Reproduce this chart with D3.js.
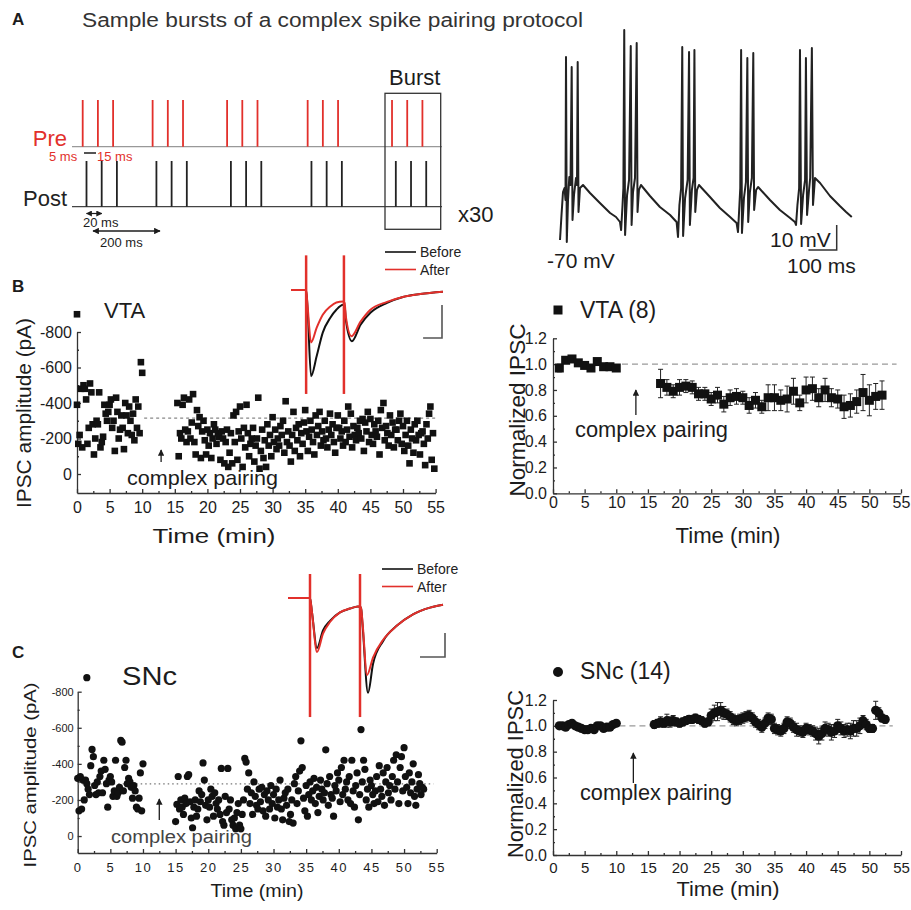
<!DOCTYPE html>
<html>
<head>
<meta charset="utf-8">
<script src="https://cdn.jsdelivr.net/npm/d3@7"></script>
<style>
  body { margin: 0; background: #fff; }
  svg { display: block; font-family: "Liberation Sans", Arial, sans-serif; }
</style>
</head>
<body>
<script>
// ---- data ----

// A: pairing schematic, times in ms
var burstStarts = [0, 92, 190, 296, 407];
var spikeOffsets = [0, 20, 40];
var postDelay = 5;

// A: membrane potential during pairing, [ms, mV]
var vmTrace = [
  [0,-70],[5.3,-60],[10.6,-50.8],[15.9,-49.2],[19.4,-54],[21.2,3.2],[24,-70.8],[28.3,-54],[32.9,-44.8],[37.1,-48],
  [41.3,-0.8],[44.2,-62],[49.5,-52],[56.5,-45.2],[60.1,-48],[62.5,1.2],[65.4,-58.8],[70.7,-49.2],[81.3,-48],[106,-51.2],
  [141,-55.2],[177,-59.2],[198,-60.8],[212,-62.8],
  [216,-66],[221,-56],[224,-49.2],[227,14],[230,-68],[237,-52],[244,-46],[250,7.6],[253,-64],[258,-50.8],[265,-45.2],
  [271,8.8],[274,-58.8],[279,-50],[286,-48],[318,-52.4],[353,-56.8],[389,-60],[412,-62.8],
  [417,-68.8],[422,-56],[428,-49.2],[432,7.2],[435,-68.4],[442,-53.2],[451,-46],[456,5.2],[459,-64],[466,-50],[472,-45.2],
  [475,6],[478,-58.8],[484,-50],[491,-48],[530,-52.8],[565,-57.2],[601,-60.8],[624,-63.2],
  [629,-66.8],[634,-56],[637,-49.2],[640,6],[643,-67.2],[650,-53.2],[657,-46.8],[662,2.8],[665,-62.8],[671,-50.8],[678,-45.2],
  [683,4.8],[686,-58],[693,-50],[700,-48.8],[742,-54],[777,-58],[813,-61.2],[830,-62.8],
  [834,-64],[839,-56],[845,-49.2],[848,6],[852,-63.6],[859,-52],[866,-46],[869,2.8],[873,-60],[880,-50],[884,-45.2],
  [890,6.8],[894,-56],[901,-45.2],[919,-47.2],[954,-52.4],[989,-56.4],[1011,-58.8],[1031,-60.8]
];

// insets: paired IPSCs, [ms, pA]
var stimTimes = [0, 50];
var vtaBefore = [[-20,0],[0,0],[2,-60],[6.5,-261],[14,-200],[22,-129],[32,-84],[40,-60],[49,-45],[51,-50],[52.5,-90],
  [60.5,-155],[72,-105],[85,-69],[107,-39],[128,-21],[151,-12],[181,-5]];
var vtaAfter = [[-20,0],[0,0],[2,-50],[6.5,-159],[14,-114],[22,-75],[32,-50],[40,-38],[49,-35],[51,-40],[52.5,-80],
  [60,-140],[72,-96],[85,-60],[107,-36],[128,-21],[151,-12],[181,-5]];
var sncBefore = [[-22,0],[0,0],[2,-60],[7,-208],[13,-135],[20,-95],[30,-60],[40,-44],[48,-35],[51,-40],[52.5,-110],
  [58,-395],[63,-275],[73,-180],[87,-115],[103,-68],[120,-40],[133,-28]];
var sncAfter = [[-22,0],[0,0],[2,-60],[7,-225],[13,-148],[20,-100],[30,-60],[40,-44],[48,-35],[51,-40],[52.5,-100],
  [57,-321],[63,-248],[73,-175],[87,-115],[103,-68],[120,-40],[133,-28]];

// B: VTA example cell, one sweep every 0.2 min
var sweepStep = 0.2;
var vtaBaseStart = 0;
var vtaBaseAmp = [-390,-170,-220,-480,-150, -500,-480,-420,-170,-260, -510,-460,-280,-110,-200,
  -300,-280,-460,-150,-180, -210,-390,-340,-300,-350, -390,-420,-260,-300,-130, -430,-350,-200,-250,-330,
  -260,-140,-400,-330,-230, -380,-300,-220,-340,-190, -420,-260,-380,-230,-630, -570];
var vtaPostStart = 15.4;
var vtaPostAmp = [-400,-100,-230,
  -200,-390,-430,-250,-180, -240,-420,-200,-290,-450, -180,-110,-360,-270,-320, -90,-240,-300,-190,-110,
  -250,-160,-230,-90,-200, -280,-250,-170,-230,-210, -80,-240,-200,-60,-180, -250,-40,-120,-230,-60,
  -330,-180,-350,-80,-240, -380,-200,-40,-260,-150, -390,-230,-100,-170,-200, -260,-70,-160,-200,-430,
  -30,-130,-250,-90,-190, -40,-280,-160,-220,-100, -320,-180,-250,-140,-200, -160,-270,-220,-300,-120,
  -410,-180,-240,-160,-70, -220,-350,-130,-260,-190, -280,-100,-230,-170,-290, -360,-240,-130,-210,-300,
  -250,-180,-110,-330,-220, -270,-350,-160,-240,-190, -300,-200,-150,-250,-340, -220,-280,-180,-120,-260,
  -330,-260,-200,-240,-160, -300,-180,-250,-380,-210, -340,-150,-270,-220,-190, -260,-230,-300,-200,-310,
  -130,-290,-240,-350,-180, -310,-220,-170,-280,-240, -210,-300,-110,-360,-260, -400,-190,-270,-230,-160,
  -330,-220,-290,-150,-250, -250,-190,-300,-340,-170, -270,-130,-220,-300,-160, -60,-250,-200,-120,-280,
  -190,-300,-220,-110,-230, -240,-170,-50,-280,-200, -340,-380,-80,-230,-30];
var vtaOutliers = [[0, -900]];
var vtaMean = -315;

// C: SNc example cell
var sncBaseStart = 0;
var sncBaseAmp = [-320,-140,-330,-150,-310, -200,-310,-290,-260,-230, -390,-480,-440,-280,-230,
  -300,-240,-330,-360,-240, -420,-370,-290,-160,-310, -330,-300,-220,-250,-420, -220,-240,-270,-530,-520,
  -250,-380,-420,-290,-320, -300,-270,-210,-280,-250, -160,-150,-210,-350,-140, -400];
var sncPostStart = 15.0;
var sncPostAmp = [-80,-175,-330,-150,-200, -160,-120,-210,-180,-330, -340,-190,-100,-46,-160,
  -200,-110,-150,-250,-190, -230,-405,-310,-170,-90, -200,-160,-260,-220,-110, -240,-180,-150,-200,-120,
  -375,-80,-60,-220,-130, -375,-150,-200,-90,-60, -100,-40,-130,-180,-60, -40,-120,-200,-430,-410,
  -260,-350,-180,-240,-120, -300,-220,-170,-150,-260, -190,-270,-140,-230,-110, -250,-200,-150,-280,-180,
  -230,-100,-260,-160,-200, -310,-150,-90,-210,-240, -170,-260,-80,-120,-200, -72,-290,-330,-180,-250,
  -360,-528,-380,-210,-140, -280,-110,-230,-300,-200, -250,-320,-180,-270,-130, -220,-310,-260,-200,-240,
  -478,-290,-170,-330,-230, -210,-110,-280,-250,-350, -310,-190,-380,-230,-420, -260,-300,-200,-330,-180,
  -420,-250,-160,-280,-350, -90,-230,-590,-300,-420, -370,-200,-260,-160,-310, -280,-230,-180,-250,-330,
  -190,-390,-260,-220,-350, -170,-300,-380,-240,-280, -200,-330,-420,-260,-450, -300,-180,-380,-440,-250,
  -490,-330,-270,-180,-350, -240,-300,-400,-220,-170, -260,-340,-290,-230,-270, -260];
var sncOutliers = [[1.4, -878]];
var sncMean = -289;

// B right: VTA (8) normalized, 1 min bins
var vtaNormBaseStart = 1, vtaNormPostStart = 17, vtaNormStep = 1;
var vtaNormBase = [0.97,1.03,1.04,1.01,0.99,0.97,1.02,0.98,0.98,0.97];
var vtaNormBaseErr = [0.03,0.02,0.02,0.02,0.02,0.02,0.02,0.02,0.02,0.02];
var vtaNormPost = [0.85,0.82,0.79,0.82,0.83,0.82,0.77,0.77,0.73,0.76,0.69,0.74,0.75,0.74,0.68,0.72,0.67,0.74,
  0.74,0.72,0.73,0.79,0.70,0.80,0.81,0.74,0.80,0.74,0.73,0.67,0.68,0.71,0.78,0.72,0.75,0.76];
var vtaNormPostErr = [0.11,0.06,0.05,0.06,0.05,0.05,0.05,0.05,0.05,0.06,0.06,0.06,0.06,0.05,0.06,0.06,0.05,0.10,
  0.10,0.08,0.10,0.10,0.06,0.10,0.09,0.07,0.09,0.07,0.07,0.09,0.09,0.09,0.14,0.12,0.10,0.11];

// C right: SNc (14) normalized, 0.5 min bins
var sncNormBaseStart = 1, sncNormPostStart = 16, sncNormStep = 0.5;
var sncNormBase = [1.00,1.00,0.99,1.01,1.02,1.00,0.99,0.98,0.97,0.97,0.98,0.97,1.00,1.00,0.98,0.99,0.99,1.01,1.02];
var sncNormBaseErr = [0.02,0.01,0.01,0.02,0.02,0.01,0.01,0.02,0.02,0.01,0.01,0.02,0.02,0.01,0.01,0.02,0.01,0.02,0.02];
var sncNormPost = [1.01,1.02,1.03,1.02,1.04,1.03,1.04,1.03,1.02,1.03, 1.04,1.05,1.05,1.06,1.05,1.04,1.02,1.03,1.08,1.10,
  1.11,1.12,1.10,1.09,1.07,1.05,1.04,1.05,1.06,1.07, 1.08,1.06,1.03,1.01,0.99,1.02,1.06,1.05,0.98,0.97,
  0.96,0.98,1.03,1.02,0.99,0.97,0.96,0.95,0.98,0.97, 0.96,0.94,0.92,0.94,0.98,0.97,0.95,0.96,1.00,0.98,
  0.96,0.97,0.96,0.98,0.98,1.00,1.04,1.01,0.98,0.98, 1.12,1.10,1.06,1.05];
var sncNormPostErr = [0.03,0.03,0.04,0.03,0.05,0.04,0.04,0.03,0.03,0.03, 0.03,0.03,0.03,0.03,0.03,0.03,0.03,0.03,0.05,0.06,
  0.07,0.06,0.05,0.04,0.04,0.04,0.04,0.04,0.04,0.04, 0.04,0.04,0.04,0.04,0.04,0.04,0.04,0.04,0.04,0.04,
  0.04,0.04,0.04,0.04,0.04,0.05,0.04,0.04,0.04,0.04, 0.04,0.05,0.06,0.05,0.05,0.05,0.06,0.05,0.05,0.05,
  0.05,0.05,0.06,0.06,0.06,0.06,0.04,0.04,0.03,0.03, 0.07,0.04,0.03,0.03];

var timeTicks = [0,5,10,15,20,25,30,35,40,45,50,55];
var ampTicks = [0,-200,-400,-600,-800];
var normTicks = [0.0,0.2,0.4,0.6,0.8,1.0,1.2];

// ---- drawing ----
var width = 911, height = 910;
var RED = "#e2302b", INK = "#1c1c1c";

var svg = d3.select("body").append("svg")
    .attr("width", width)
    .attr("height", height);

svg.append("defs").append("marker")
    .attr("id", "head")
    .attr("viewBox", "0 0 10 10")
    .attr("refX", 9).attr("refY", 5)
    .attr("markerWidth", 5).attr("markerHeight", 5)
    .attr("orient", "auto-start-reverse")
  .append("path").attr("d", "M0,0L10,5L0,10z").attr("fill", INK);

function label(x, y, s, o){
  o = o || {};
  var t = svg.append("text")
    .attr("x", x).attr("y", y)
    .attr("font-size", o.size || 16)
    .attr("fill", o.fill || INK)
    .attr("text-anchor", o.anchor || "start")
    .text(s);
  if (o.bold) t.attr("font-weight", "bold");
  if (o.len) t.attr("textLength", o.len).attr("lengthAdjust", "spacingAndGlyphs");
  if (o.rot) t.attr("transform", "rotate(" + o.rot + "," + x + "," + y + ")");
  return t;
}

function sweeps(start, step, vals){
  return vals.map(function(v, i){ return [start + i*step, v]; });
}

function axes(x, y, o){
  var g = svg.append("g");
  var bottom = y.range()[0], left = x.range()[0];
  var gx = g.append("g").attr("transform", "translate(0," + bottom + ")")
    .call(d3.axisBottom(x).tickValues(timeTicks).tickSize(-4).tickSizeOuter(0).tickPadding(o.xPad));
  g.append("g").attr("transform", "translate(0," + bottom + ")")
    .call(d3.axisBottom(x).tickValues(timeTicks.slice(0,-1).map(function(d){ return d + 2.5; }))
      .tickSize(-2).tickSizeOuter(0).tickFormat(""))
    .select(".domain").remove();
  var gy = g.append("g").attr("transform", "translate(" + left + ",0)")
    .call(d3.axisLeft(y).tickValues(o.yTicks).tickSize(-4).tickSizeOuter(0).tickPadding(o.yPad).tickFormat(o.fmt));
  g.append("g").attr("transform", "translate(" + left + ",0)")
    .call(d3.axisLeft(y).tickValues(o.yMinor).tickSize(-2).tickSizeOuter(0).tickFormat(""))
    .select(".domain").remove();
  g.selectAll("path,line").attr("stroke", "#333").attr("stroke-width", 1.3);
  gx.selectAll("text").attr("font-size", o.xSize).attr("fill", INK).style("letter-spacing", o.xSpace || 0);
  gy.selectAll("text").attr("font-size", o.ySize).attr("fill", INK);
  g.selectAll("text").attr("font-family", null);
}

function arrow(x, y1, y2){
  svg.append("line").attr("x1", x).attr("x2", x).attr("y1", y1).attr("y2", y2)
    .attr("stroke", INK).attr("stroke-width", 1.3).attr("marker-end", "url(#head)");
}

// ===== Panel A =====
label(12, 25, "A", {size: 17, bold: true});
label(82, 27, "Sample bursts of a complex spike pairing protocol", {size: 20, len: 501, fill: "#333"});

var xR = d3.scaleLinear().domain([0, 480]).range([82.7, 82.7 + 480*0.76]);
var preSpikes = [], postSpikes = [];
burstStarts.forEach(function(b){
  spikeOffsets.forEach(function(o){ preSpikes.push(b + o); postSpikes.push(b + o + postDelay); });
});

svg.append("line").attr("x1", 72).attr("x2", 442).attr("y1", 146.7).attr("y2", 146.7)
  .attr("stroke", "#999").attr("stroke-width", 1.2);
svg.append("line").attr("x1", 72).attr("x2", 442).attr("y1", 206.7).attr("y2", 206.7)
  .attr("stroke", "#444").attr("stroke-width", 1.2);
svg.selectAll(".pre").data(preSpikes).enter().append("line").attr("class", "pre")
  .attr("x1", function(d){ return xR(d); }).attr("x2", function(d){ return xR(d); })
  .attr("y1", 100).attr("y2", 146.7).attr("stroke", RED).attr("stroke-width", 1.8);
svg.selectAll(".post").data(postSpikes).enter().append("line").attr("class", "post")
  .attr("x1", function(d){ return xR(d); }).attr("x2", function(d){ return xR(d); })
  .attr("y1", 161).attr("y2", 206.7).attr("stroke", "#222").attr("stroke-width", 1.8);

svg.append("rect").attr("x", 385).attr("y", 93.3).attr("width", 55.7).attr("height", 136)
  .attr("fill", "none").attr("stroke", "#333").attr("stroke-width", 1.3);

label(67, 146, "Pre", {size: 22, anchor: "end", fill: RED});
label(67, 206, "Post", {size: 22, anchor: "end", fill: "#222"});
label(49, 161, "5 ms", {size: 13, fill: RED});
label(97, 161, "15 ms", {size: 13, fill: RED});
svg.append("line").attr("x1", 84).attr("x2", 96).attr("y1", 153).attr("y2", 153)
  .attr("stroke", INK).attr("stroke-width", 1.5);
svg.append("line").attr("x1", xR(postSpikes[0])).attr("x2", xR(postSpikes[1])).attr("y1", 213.5).attr("y2", 213.5)
  .attr("stroke", INK).attr("stroke-width", 1.2)
  .attr("marker-start", "url(#head)").attr("marker-end", "url(#head)");
label(83, 227, "20 ms", {size: 13});
svg.append("line").attr("x1", 93).attr("x2", 160).attr("y1", 231).attr("y2", 231)
  .attr("stroke", INK).attr("stroke-width", 1.3)
  .attr("marker-start", "url(#head)").attr("marker-end", "url(#head)");
label(100, 247, "200 ms", {size: 13});
label(389, 85, "Burst", {size: 22});
label(458, 222, "x30", {size: 22});

// membrane potential trace
var xV = d3.scaleLinear().domain([0, 1031]).range([560, 560 + 1031*0.283]);
var yV = d3.scaleLinear().domain([-70, 14]).range([240, 30]);
svg.append("path").datum(vmTrace)
  .attr("d", d3.line().x(function(d){ return xV(d[0]); }).y(function(d){ return yV(d[1]); }))
  .attr("fill", "none").attr("stroke", "#222").attr("stroke-width", 2).attr("stroke-linejoin", "round");
var sbx = 836.7, sby = 250;
svg.append("path")
  .attr("d", "M" + (sbx - (xV(100) - xV(0))) + "," + sby + "H" + sbx + "V" + (sby - (yV(0) - yV(10))))
  .attr("fill", "none").attr("stroke", "#333").attr("stroke-width", 1.5);
label(547, 268, "-70 mV", {size: 21});
label(770, 247, "10 mV", {size: 21});
label(787, 273, "100 ms", {size: 21});

// ===== insets =====
function inset(before, after, xS, yS, artTop, artBot, legY, bar){
  var ln = d3.line().curve(d3.curveMonotoneX)
    .x(function(d){ return xS(d[0]); }).y(function(d){ return yS(d[1]); });
  svg.append("path").datum(before).attr("d", ln).attr("fill", "none").attr("stroke", "#111").attr("stroke-width", 2);
  svg.append("path").datum(after).attr("d", ln).attr("fill", "none").attr("stroke", RED).attr("stroke-width", 2);
  stimTimes.forEach(function(t){
    svg.append("line").attr("x1", xS(t)).attr("x2", xS(t)).attr("y1", yS(artTop)).attr("y2", yS(artBot))
      .attr("stroke", RED).attr("stroke-width", 2.5);
  });
  [["Before", "#111"], ["After", RED]].forEach(function(d, i){
    var yy = legY + i*17.5;
    svg.append("line").attr("x1", bar.legX).attr("x2", bar.legX + 31).attr("y1", yy).attr("y2", yy)
      .attr("stroke", d[1]).attr("stroke-width", 1.6);
    label(bar.legX + 35, yy + 5, d[0], {size: 14, fill: "#222"});
  });
  var bx = bar.x, by = bar.y;
  svg.append("path")
    .attr("d", "M" + (bx - (xS(bar.ms) - xS(0))) + "," + by + "H" + bx + "V" + (by - (yS(-bar.pA) - yS(0))))
    .attr("fill", "none").attr("stroke", "#555").attr("stroke-width", 1.6);
}

var xIB = d3.scaleLinear().domain([-20, 185]).range([291, 446]);
var yIB = d3.scaleLinear().domain([0, -100]).range([290, 323]);
inset(vtaBefore, vtaAfter, xIB, yIB, 105, -315, 252, {legX: 385, x: 442, y: 338, ms: 25, pA: 100});

var xIC = d3.scaleLinear().domain([-22, 133]).range([288, 443]);
var yIC = d3.scaleLinear().domain([0, -100]).range([598, 622]);
inset(sncBefore, sncAfter, xIC, yIC, 100, -496, 569, {legX: 382, x: 445, y: 657, ms: 25, pA: 100});

// ===== Panel B left: VTA example =====
label(12, 292, "B", {size: 17, bold: true});
var xB = d3.scaleLinear().domain([0, 55]).range([77, 77 + 55*6.52]);
var yB = d3.scaleLinear().domain([107, -800]).range([493, 332]);
axes(xB, yB, {yTicks: ampTicks, yMinor: [-100,-300,-500,-700], fmt: function(d){ return String(d); },
  xPad: 9, yPad: 5, xSize: 16, ySize: 16});

svg.append("line").attr("x1", xB(10.3)).attr("x2", xB(55)).attr("y1", yB(vtaMean)).attr("y2", yB(vtaMean))
  .attr("stroke", "#888").attr("stroke-width", 1.1).attr("stroke-dasharray", "3,3");

var vtaPts = sweeps(vtaBaseStart, sweepStep, vtaBaseAmp)
  .concat(sweeps(vtaPostStart, sweepStep, vtaPostAmp)).concat(vtaOutliers);
svg.selectAll(".vta").data(vtaPts).enter().append("rect").attr("class", "vta")
  .attr("x", function(d){ return xB(d[0]) - 3.3; }).attr("y", function(d){ return yB(d[1]) - 3.3; })
  .attr("width", 6.6).attr("height", 6.6).attr("fill", "#111");

label(104, 318, "VTA", {size: 22});
label(127, 485, "complex pairing", {size: 21, len: 151});
arrow(xB(12.9), 462, 450);
label(31, 413, "IPSC amplitude (pA)", {size: 20, len: 190, rot: -90, anchor: "middle"});
label(214, 543, "Time (min)", {size: 21, len: 123, anchor: "middle"});

// ===== Panel B right: VTA (8) =====
var xBR = d3.scaleLinear().domain([0, 55]).range([553, 901]);
var yBR = d3.scaleLinear().domain([0, 1.2]).range([493.3, 338.3]);
axes(xBR, yBR, {yTicks: normTicks, yMinor: [0.1,0.3,0.5,0.7,0.9,1.1], fmt: d3.format(".1f"),
  xPad: 3, yPad: 6, xSize: 16, ySize: 16});
svg.append("line").attr("x1", xBR(10.9)).attr("x2", xBR(54.3)).attr("y1", yBR(1)).attr("y2", yBR(1))
  .attr("stroke", "#999").attr("stroke-width", 1.2).attr("stroke-dasharray", "6,4");

function summary(x, y, pts, shape){
  svg.selectAll(null).data(pts).enter().append("path")
    .attr("d", function(d){
      var cx = x(d[0]), t = y(d[1] + d[2]), b = y(d[1] - d[2]);
      return "M" + cx + "," + t + "V" + b + "M" + (cx-2.5) + "," + t + "H" + (cx+2.5) + "M" + (cx-2.5) + "," + b + "H" + (cx+2.5);
    })
    .attr("stroke", "#222").attr("stroke-width", 1);
  if (shape === "square") {
    svg.selectAll(null).data(pts).enter().append("rect")
      .attr("x", function(d){ return x(d[0]) - 4.5; }).attr("y", function(d){ return y(d[1]) - 4.5; })
      .attr("width", 9).attr("height", 9).attr("fill", "#111");
  } else {
    svg.selectAll(null).data(pts).enter().append("circle")
      .attr("cx", function(d){ return x(d[0]); }).attr("cy", function(d){ return y(d[1]); })
      .attr("r", 4.6).attr("fill", "#111");
  }
}
function withErr(start, step, vals, errs){
  return vals.map(function(v, i){ return [start + i*step, v, errs[i]]; });
}
summary(xBR, yBR, withErr(vtaNormBaseStart, vtaNormStep, vtaNormBase, vtaNormBaseErr)
  .concat(withErr(vtaNormPostStart, vtaNormStep, vtaNormPost, vtaNormPostErr)), "square");

svg.append("rect").attr("x", 553.5).attr("y", 305.5).attr("width", 9).attr("height", 9).attr("fill", "#111");
label(580, 318, "VTA (8)", {size: 23});
label(575, 437, "complex pairing", {size: 22, len: 153});
arrow(xBR(13.1), 415, 390);
label(525, 410, "Normalized IPSC", {size: 22, len: 173, rot: -90, anchor: "middle"});
label(728, 543, "Time (min)", {size: 22, len: 105, anchor: "middle"});

// ===== Panel C left: SNc example =====
label(12, 658, "C", {size: 17, bold: true});
var xC = d3.scaleLinear().domain([0, 55]).range([77.7, 436.7]);
var yC = d3.scaleLinear().domain([94, -800]).range([853, 691.7]);
axes(xC, yC, {yTicks: ampTicks, yMinor: [-100,-300,-500,-700], fmt: function(d){ return String(d); },
  xPad: 10, yPad: 4, xSize: 13, ySize: 11, xSpace: "1.5px"});

svg.append("line").attr("x1", xC(0)).attr("x2", xC(54.5)).attr("y1", yC(sncMean)).attr("y2", yC(sncMean))
  .attr("stroke", "#777").attr("stroke-width", 1.2).attr("stroke-dasharray", "1.5,3");

var sncPts = sweeps(sncBaseStart, sweepStep, sncBaseAmp)
  .concat(sweeps(sncPostStart, sweepStep, sncPostAmp)).concat(sncOutliers);
svg.selectAll(".snc").data(sncPts).enter().append("circle").attr("class", "snc")
  .attr("cx", function(d){ return xC(d[0]); }).attr("cy", function(d){ return yC(d[1]); })
  .attr("r", 3.6).attr("fill", "#111");

label(122, 685, "SNc", {size: 25, len: 55});
label(111, 843, "complex pairing", {size: 18, len: 141, fill: "#444"});
arrow(xC(12.5), 820, 799);
label(36, 775, "IPSC amplitude (pA)", {size: 17, len: 185, rot: -90, anchor: "middle"});
label(257, 897, "Time (min)", {size: 18, len: 93, anchor: "middle"});

// ===== Panel C right: SNc (14) =====
var xCR = d3.scaleLinear().domain([0, 55]).range([553, 901]);
var yCR = d3.scaleLinear().domain([0, 1.2]).range([855, 700]);
axes(xCR, yCR, {yTicks: normTicks, yMinor: [0.1,0.3,0.5,0.7,0.9,1.1], fmt: d3.format(".1f"),
  xPad: 7, yPad: 6, xSize: 15, ySize: 16});
svg.append("line").attr("x1", xCR(10.5)).attr("x2", xCR(53.7)).attr("y1", yCR(1)).attr("y2", yCR(1))
  .attr("stroke", "#999").attr("stroke-width", 1.2).attr("stroke-dasharray", "6,4");
summary(xCR, yCR, withErr(sncNormBaseStart, sncNormStep, sncNormBase, sncNormBaseErr)
  .concat(withErr(sncNormPostStart, sncNormStep, sncNormPost, sncNormPostErr)), "circle");

svg.append("circle").attr("cx", 558).attr("cy", 672).attr("r", 5).attr("fill", "#111");
label(580, 679, "SNc (14)", {size: 23});
label(580, 800, "complex pairing", {size: 22, len: 152});
arrow(xCR(12.7), 783, 753);
label(523, 774, "Normalized IPSC", {size: 22, len: 168, rot: -90, anchor: "middle"});
label(728, 896, "Time (min)", {size: 20, len: 103, anchor: "middle"});
</script>
</body>
</html>
